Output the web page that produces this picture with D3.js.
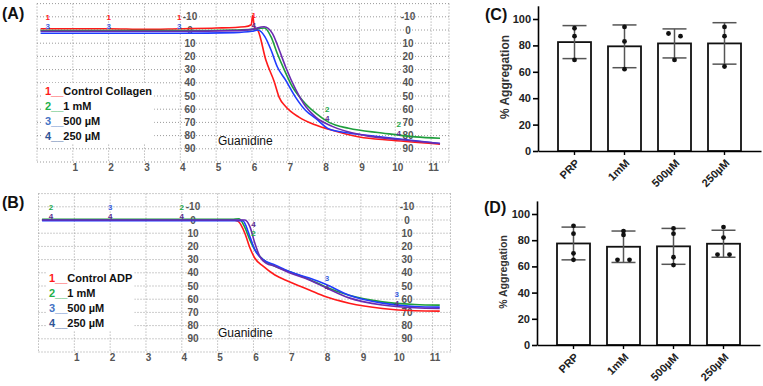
<!DOCTYPE html>
<html><head><meta charset="utf-8">
<script src="https://cdn.jsdelivr.net/npm/d3@7"></script>
<style>body{margin:0;background:#fff} svg{display:block}</style>
</head><body>
<svg id="c" width="763" height="386"></svg>
<script>
// ---------- DATA ----------
const timeTicks = [1,2,3,4,5,6,7,8,9,10,11];
const aggTickLabels = [-10,0,10,20,30,40,50,60,70,80,90];
const namesA = ["Control Collagen","1 mM","500 µM","250 µM"];
const namesB = ["Control ADP","1 mM","500 µM","250 µM"];

// Panel A traces [time, % aggregation]
const controlA = [[0.1,-1],[1,-1],[2,-1],[3,-0.5],[4,-1],[5,-1.5],[5.8,-2.5],[5.98,-4],[6.02,-11],[6.07,-2],[6.17,0.5],[6.39,23],[6.62,39],[6.76,51],[6.94,58],[7.31,66],[7.78,72],[8.24,76],[9.0,81],[9.9,83.5],[11.25,86.5]];
const mM1A = [[0.1,0.5],[2,0.5],[4,0.5],[5.5,0],[6.0,-0.5],[6.35,-1.5],[6.53,5],[6.71,18],[6.9,30],[7.13,43],[7.4,53],[7.78,63],[8.15,70],[8.7,74.5],[9.63,78],[10.56,81],[11.25,82]];
const uM500A = [[0.1,2.5],[2,2.5],[4,2.5],[5.5,2],[6.0,1],[6.17,0],[6.36,5],[6.53,15],[6.71,28],[6.94,38],[7.22,51],[7.5,61],[7.78,67],[8.15,75],[8.7,78],[9.63,81],[11.25,86]];
const uM250A = [[0.1,1],[2,1],[4,1],[5.5,0.5],[6.0,-0.5],[6.34,-2.5],[6.57,2.5],[6.76,15],[6.94,28],[7.22,45],[7.5,58],[7.78,66],[8.24,73],[9.17,80],[10.1,83],[11.25,86]];

// Panel B traces
const controlB = [[0.1,0],[5.4,0],[5.57,1],[5.76,10],[5.9,21],[6.04,29],[6.27,35],[6.6,41.7],[7.0,46.7],[7.56,53],[8.0,58],[8.67,63],[9.6,67],[10.5,68.7],[11.2,69]];
const mM1B = [[0.1,-0.5],[5.4,-0.5],[5.6,-1],[5.75,5],[5.9,15],[6.04,22.7],[6.27,30],[6.6,35],[7.0,39],[7.56,45],[8.0,50.5],[8.67,57],[9.6,62],[10.5,64],[11.2,64.5]];
const uM500B = [[0.1,0.5],[5.4,0.5],[5.7,0.5],[5.9,12.6],[6.04,22.7],[6.27,30],[6.6,34],[7.0,39],[7.56,44],[8.0,48.5],[8.67,57],[9.6,63],[10.5,65.5],[11.2,66]];
const uM250B = [[0.1,0],[5.5,0],[5.76,0],[5.9,5],[6.04,17.7],[6.18,27.8],[6.36,32.8],[6.6,35],[7.0,40],[7.56,45.4],[8.0,51],[8.67,59],[9.6,64.4],[10.5,66.5],[11.2,67]];

// Event markers [time, value, label]
const markersA = [[0.3,-3,"3"],[0.3,-10,"1"],[2.0,-3,"3"],[2.0,-10,"1"],[3.97,-3,"3"],[3.97,-10,"1"],[6.05,-4,"4"],[6.05,-11,"1"],[8.1,67,"4"],[8.1,60,"2"],[10.1,78,"4"],[10.1,71,"2"]];
const markersB = [[0.35,-3,"4"],[0.35,-10,"2"],[2.0,-3,"4"],[2.0,-10,"3"],[4.0,-3,"4"],[4.0,-10,"2"],[6.0,10,"2"],[6.0,3,"4"],[8.05,51,"4"],[8.05,44,"3"],[10.0,63,"4"],[10.0,56,"3"]];

// Bar panels
const groups = ["PRP","1mM","500µM","250µM"];
const meanC = [82.5,79.3,81.5,81.5];
const sdC = [12.5,16.2,11,15.7];
const pointsC = [[93,87,69],[94,83,62],[89,87,69],[94,87,64]];
const meanD = [77.5,75,75.3,77.3];
const sdD = [12.5,12,13.7,10.3];
const pointsD = [[91,85,70,65],[87,84,65,65],[89,85,67,61],[90,82,69,69]];
const barTicks = [0,20,40,60,80,100];

// ---------- DRAW ----------
const svg = d3.select("#c");
const FONT = "'Liberation Sans', Arial, sans-serif";
const traceColors = ["#ff1a1a","#1e9e3c","#1f3cff","#6a2bb0"];
const legendColors = ["#ff1a1a","#22b04a","#4472c4","#2f5597"];
const markerColors = {"1":"#ff2020","2":"#22a84a","3":"#3a5fe0","4":"#5b2c8f"};

function trace(cfg){
  const g = svg.append("g");
  const x = d3.scaleLinear().domain([0,11.5]).range(cfg.xr);
  const y = d3.scaleLinear().domain([-20,100]).range(cfg.yr);
  const grid = g.append("g").attr("stroke","#9a9a9a").attr("stroke-dasharray","1,2").attr("stroke-width",1);
  d3.range(-20,101,10).forEach(v=>grid.append("line").attr("x1",x(0)).attr("x2",x(11.5)).attr("y1",y(v)).attr("y2",y(v)));
  [0,...timeTicks,11.5].forEach(t=>grid.append("line").attr("x1",x(t)).attr("x2",x(t)).attr("y1",y(-20)).attr("y2",y(100)));
  // y labels (two columns)
  [cfg.midX, cfg.rightX].forEach(cx=>{
    g.append("g").selectAll("text").data(aggTickLabels).join("text")
      .attr("x",cx).attr("y",d=>y(d)).attr("dy","0.35em").attr("text-anchor","middle")
      .attr("font-family",FONT).attr("font-size",10).attr("font-weight","bold").attr("fill","#555")
      .text(d=>d);
  });
  // x labels
  g.append("g").selectAll("text").data(timeTicks).join("text")
    .attr("x",d=>x(d)+2.5).attr("y",cfg.xLabY).attr("text-anchor","middle")
    .attr("font-family",FONT).attr("font-size",10).attr("font-weight","bold").attr("fill","#555")
    .text(d=>d);
  // lines
  const line = d3.line().x(d=>x(d[0])).y(d=>y(d[1])).curve(d3.curveMonotoneX);
  cfg.series.forEach((s,i)=>{
    g.append("path").datum(s).attr("d",line).attr("fill","none")
      .attr("stroke",traceColors[i]).attr("stroke-width",1.6).attr("stroke-linejoin","round");
  });
  // markers
  g.append("g").selectAll("text").data(cfg.markers).join("text")
    .attr("x",d=>x(d[0])).attr("y",d=>y(d[1])).attr("dy","0.35em").attr("text-anchor","middle")
    .attr("font-family",FONT).attr("font-size",8).attr("font-weight","bold")
    .attr("fill",d=>markerColors[d[2]]).text(d=>d[2]);
  // Guanidine
  g.append("text").attr("x",cfg.guan[0]).attr("y",cfg.guan[1]).attr("font-family",FONT)
    .attr("font-size",12).attr("fill","#111").text("Guanidine");
  // legend
  const lg = g.append("g");
  const bg = lg.append("rect").attr("fill","#fff");
  cfg.names.forEach((n,i)=>{
    const t = lg.append("text").attr("x",cfg.leg[0]).attr("y",cfg.leg[1]+i*15)
      .attr("font-family",FONT).attr("font-size",11).attr("font-weight","bold");
    t.append("tspan").attr("fill",legendColors[i]).text((i+1)+"__");
    t.append("tspan").attr("fill","#111").text(n);
  });
  const bb = lg.node().getBBox();
  bg.attr("x",bb.x-2).attr("y",bb.y-2).attr("width",bb.width+4).attr("height",bb.height+4);
  // panel label
  svg.append("text").attr("x",2).attr("y",cfg.lab[1]).attr("font-family",FONT)
    .attr("font-size",16).attr("font-weight","bold").attr("fill","#111").text(cfg.lab[0]);
}

trace({xr:[37,449], yr:[3.6,162], series:[controlA,mM1A,uM500A,uM250A], markers:markersA,
  names:namesA, midX:190, rightX:408, xLabY:171, guan:[218,145], leg:[45,95], lab:["(A)",19]});
trace({xr:[38.5,450.5], yr:[193.6,352], series:[controlB,mM1B,uM500B,uM250B], markers:markersB,
  names:namesB, midX:193, rightX:407, xLabY:361, guan:[218,337], leg:[49,282], lab:["(B)",208]});

function bars(cfg){
  const g = svg.append("g");
  const x = d3.scaleBand().domain(groups).range(cfg.xr).paddingInner(0.34).paddingOuter(0.4);
  const y = d3.scaleLinear().domain([0,110]).range(cfg.yr);
  const bw = x.bandwidth();
  g.append("g").selectAll("rect").data(cfg.mean).join("rect")
    .attr("x",(d,i)=>x(groups[i])).attr("y",d=>y(d)).attr("width",bw).attr("height",d=>y(0)-y(d))
    .attr("fill","#fff").attr("stroke","#111").attr("stroke-width",1.8);
  const eb = g.append("g").attr("stroke","#555").attr("stroke-width",1.5);
  cfg.mean.forEach((m,i)=>{
    const cx = x(groups[i])+bw/2, s = cfg.sd[i];
    eb.append("line").attr("x1",cx).attr("x2",cx).attr("y1",y(m+s)).attr("y2",y(m-s));
    [m+s,m-s].forEach(v=>eb.append("line").attr("x1",cx-12).attr("x2",cx+12).attr("y1",y(v)).attr("y2",y(v)));
  });
  cfg.points.forEach((pts,i)=>{
    const cx = x(groups[i])+bw/2;
    pts.forEach((v,j)=>{
      let off = 0;
      pts.forEach((w,k)=>{ if(k!==j && Math.abs(w-v)<=2.5) off = k<j?6:-6; });
      g.append("circle").attr("cx",cx+off).attr("cy",y(v)).attr("r",2.4).attr("fill","#111");
    });
  });
  const ya = g.append("g").attr("transform",`translate(${cfg.xr[0]},0)`)
    .call(d3.axisLeft(y).tickValues(barTicks).tickSize(5).tickSizeOuter(0).tickPadding(2));
  ya.select(".domain").attr("stroke-width",1.6);
  ya.selectAll(".tick line").attr("stroke-width",1.6);
  ya.selectAll("text").attr("font-family",FONT).attr("font-size",11).attr("font-weight","bold").attr("fill","#222");
  const xa = g.append("g").attr("transform",`translate(0,${y(0)})`)
    .call(d3.axisBottom(x).tickSize(4).tickSizeOuter(0).tickFormat(""));
  xa.select(".domain").attr("stroke-width",1.6);
  xa.selectAll(".tick line").attr("stroke-width",1.4);
  g.append("g").selectAll("text").data(groups).join("text")
    .attr("transform",d=>`translate(${x(d)+bw/2+3},${y(0)+10}) rotate(-45)`)
    .attr("text-anchor","end").attr("dy","0.35em")
    .attr("font-family",FONT).attr("font-size",11).attr("font-weight","bold").attr("fill","#222").text(d=>d);
  g.append("text").attr("transform",`translate(${cfg.ylab[0]},${cfg.ylab[1]}) rotate(-90)`)
    .attr("text-anchor","middle").attr("font-family",FONT).attr("font-size",cfg.ylab[2])
    .attr("font-weight","bold").attr("fill","#333").text("% Aggregation");
  svg.append("text").attr("x",cfg.lab[1]).attr("y",cfg.lab[2]).attr("font-family",FONT)
    .attr("font-size",16).attr("font-weight","bold").attr("fill","#111").text(cfg.lab[0]);
}
bars({xr:[538,761], yr:[151,5.8], mean:meanC, sd:sdC, points:pointsC, ylab:[509,77,12], lab:["(C)",485,20]});
bars({xr:[537,760], yr:[345,200.9], mean:meanD, sd:sdD, points:pointsD, ylab:[507,272,10.5], lab:["(D)",484,213]});
</script>
</body></html>
